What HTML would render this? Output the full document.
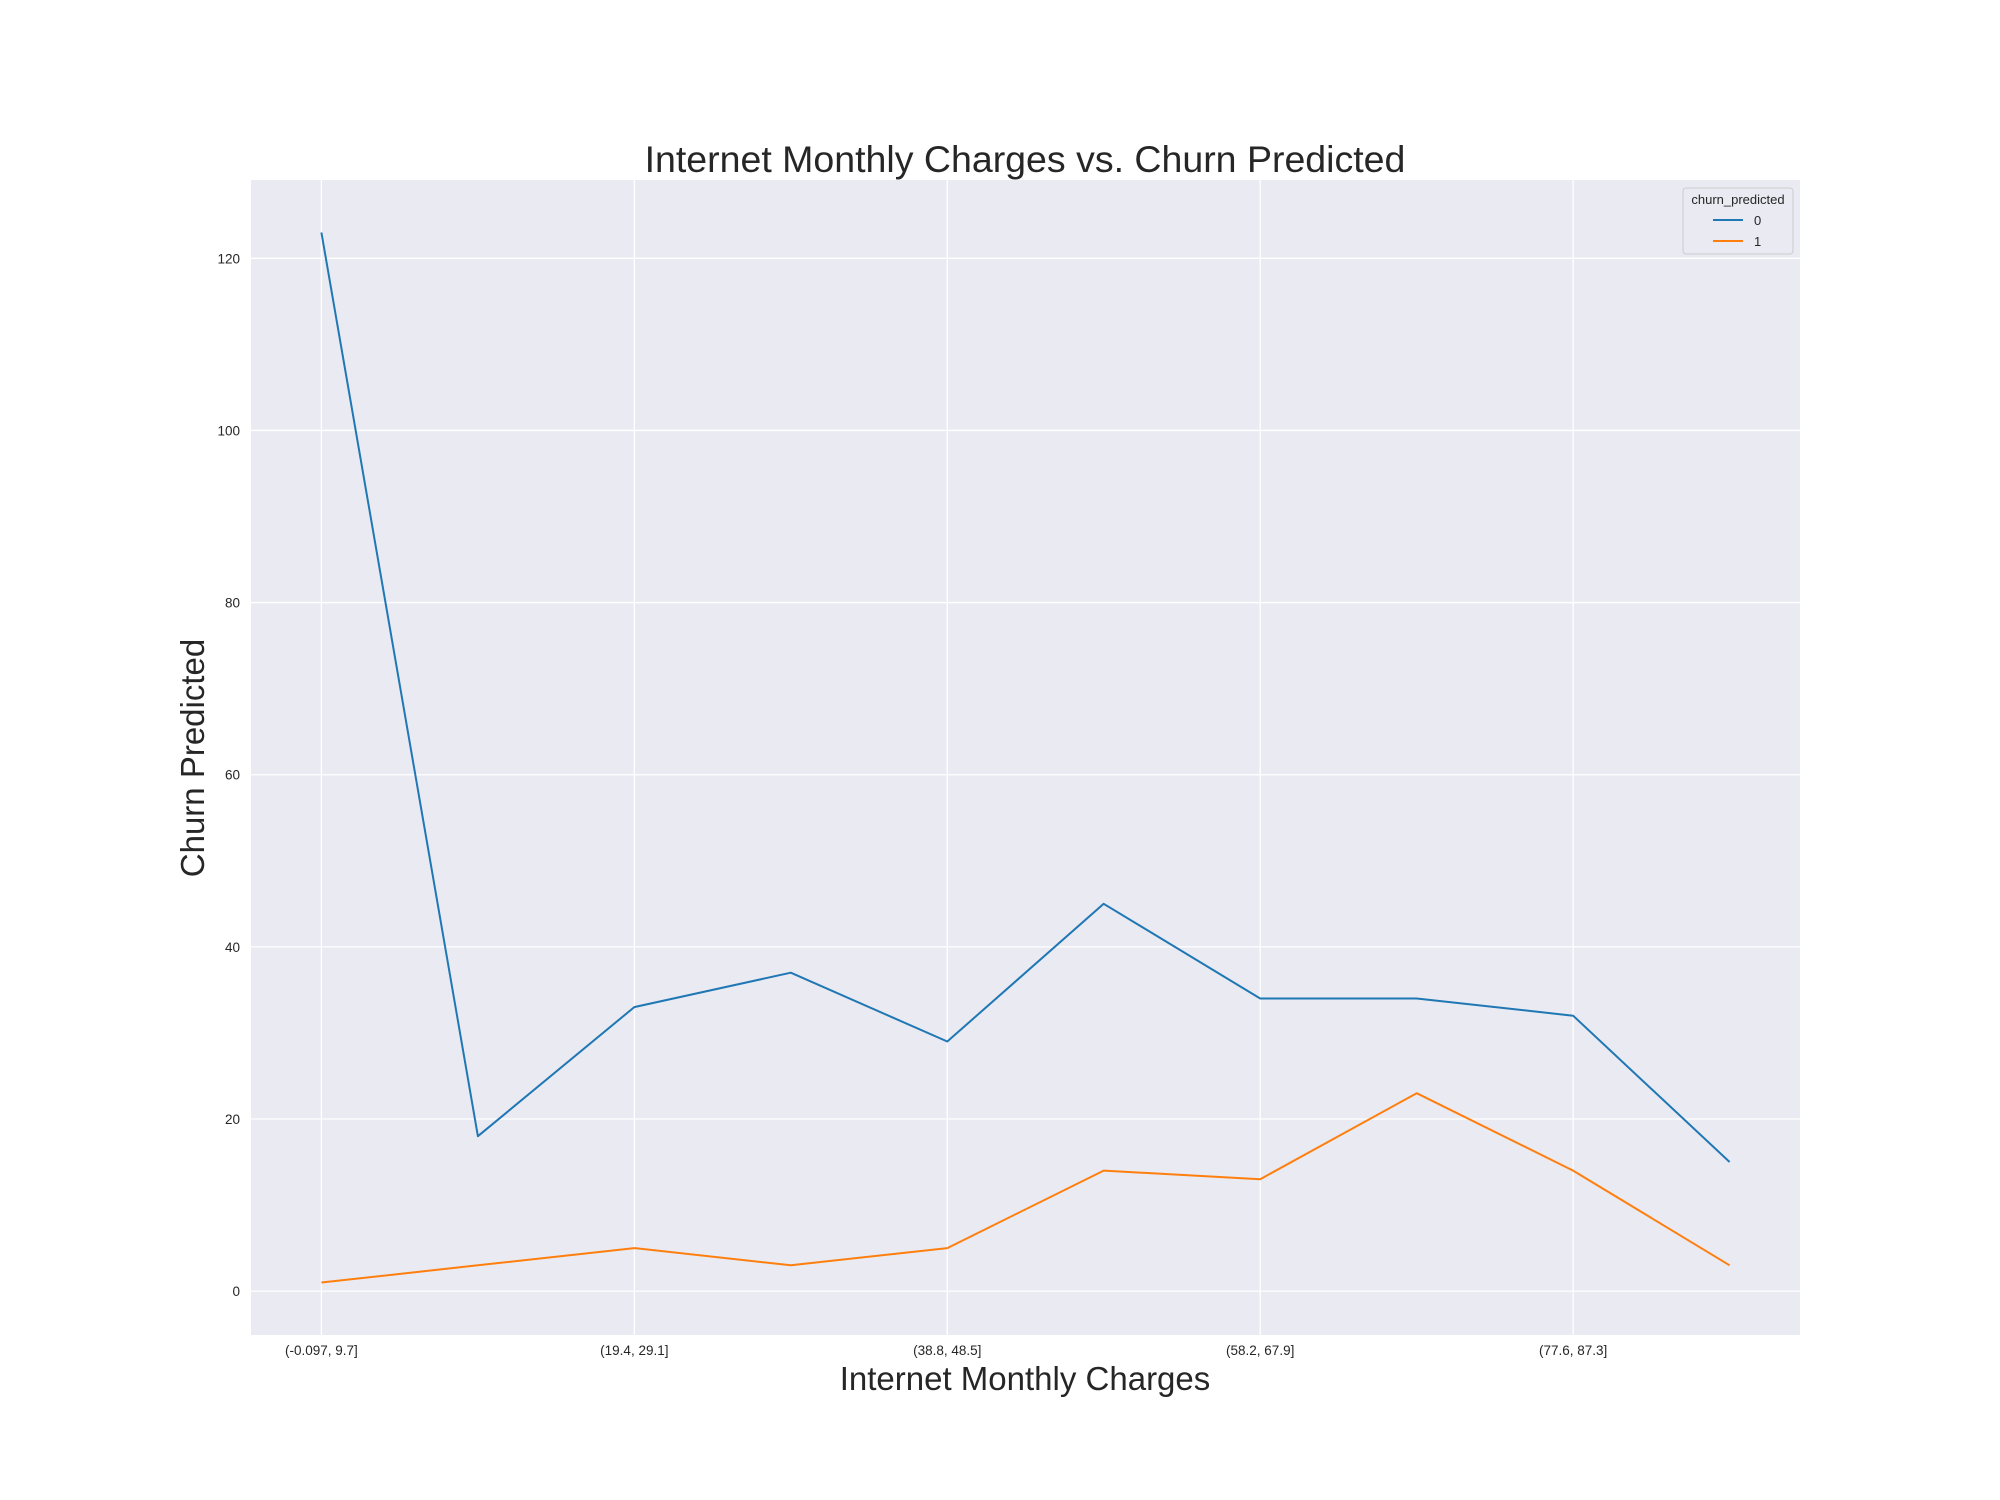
<!DOCTYPE html>
<html><head><meta charset="utf-8"><style>
html,body{margin:0;padding:0;background:#fff;}
svg{display:block;font-family:"Liberation Sans",Arial,sans-serif;}
</style></head><body>
<svg id="chart" width="2000" height="1500" xmlns="http://www.w3.org/2000/svg">
<rect x="0" y="0" width="2000" height="1500" fill="#fff"/>
<rect x="251" y="180" width="1549" height="1155" fill="#eaeaf2"/>
<g id="grid"></g>
<g id="ticks"></g>
<g id="series"></g>
<text x="1025" y="172" font-size="37.5" fill="#262626" text-anchor="middle">Internet Monthly Charges vs. Churn Predicted</text>
<text x="1025" y="1390" font-size="33" fill="#262626" text-anchor="middle">Internet Monthly Charges</text>
<text x="0" y="0" font-size="33" fill="#262626" text-anchor="middle" transform="translate(204,758) rotate(-90)">Churn Predicted</text>
<g>
<rect x="1683" y="188" width="110" height="66" rx="3" fill="#eaeaf2" stroke="#cccccc" stroke-width="1"/>
<text x="1738" y="204" font-size="13" fill="#262626" text-anchor="middle">churn_predicted</text>
<line x1="1713" y1="220" x2="1743" y2="220" stroke="#1f77b4" stroke-width="2"/>
<text x="1754" y="225" font-size="13" fill="#262626">0</text>
<line x1="1713" y1="241" x2="1743" y2="241" stroke="#ff7f0e" stroke-width="2"/>
<text x="1754" y="246" font-size="13" fill="#262626">1</text>
</g>
</svg>
<script>
const categories = ["(-0.097, 9.7]","(9.7, 19.4]","(19.4, 29.1]","(29.1, 38.8]","(38.8, 48.5]","(48.5, 58.2]","(58.2, 67.9]","(67.9, 77.6]","(77.6, 87.3]","(87.3, 97.0]"];
const seriesNoChurn = [123,18,33,37,29,45,34,34,32,15];
const seriesChurn = [1,3,5,3,5,14,13,23,14,3];
const yTicks = [0,20,40,60,80,100,120];
const xTickIdx = [0,2,4,6,8];

const NS="http://www.w3.org/2000/svg";
const L=251,R=1800,T=180,B=1335;
const allV=seriesNoChurn.concat(seriesChurn);
const vmin=Math.min(...allV),vmax=Math.max(...allV),pad=(vmax-vmin)*0.05;
const y0=vmin-pad,y1=vmax+pad;
const n=categories.length, x0=-0.45, x1=n-1+0.45;
function xs(i){return L+(i-x0)/(x1-x0)*(R-L);}
function ys(v){return B-(v-y0)/(y1-y0)*(B-T);}
function mk(tag,attrs,parent){const e=document.createElementNS(NS,tag);for(const k in attrs)e.setAttribute(k,attrs[k]);parent.appendChild(e);return e;}
const grid=document.getElementById('grid'),ticks=document.getElementById('ticks'),series=document.getElementById('series');
yTicks.forEach(v=>{
  const g=mk('line',{x1:L,x2:R,y1:ys(v),y2:ys(v),stroke:'#fff','stroke-width':1.3},grid);
  
  
  const t=mk('text',{x:240,y:ys(v)+5,'font-size':13.5,fill:'#262626','text-anchor':'end'},ticks);
  t.textContent=v;
  
  
});
xTickIdx.forEach(i=>{
  const g=mk('line',{x1:xs(i),x2:xs(i),y1:T,y2:B,stroke:'#fff','stroke-width':1.3},grid);
  
  
  const t=mk('text',{x:xs(i),y:1355,'font-size':13.5,fill:'#262626','text-anchor':'middle'},ticks);
  t.textContent=categories[i];
  
  
});
function line(vals,color,name){
  const pts=vals.map((v,i)=>xs(i).toFixed(1)+','+ys(v).toFixed(1)).join(' ');
  const p=mk('polyline',{points:pts,fill:'none',stroke:color,'stroke-width':2,'stroke-linejoin':'round'},series);
  
  
}
line(seriesNoChurn,'#1f77b4','line-churn-0');
line(seriesChurn,'#ff7f0e','line-churn-1');
</script>
</body></html>
